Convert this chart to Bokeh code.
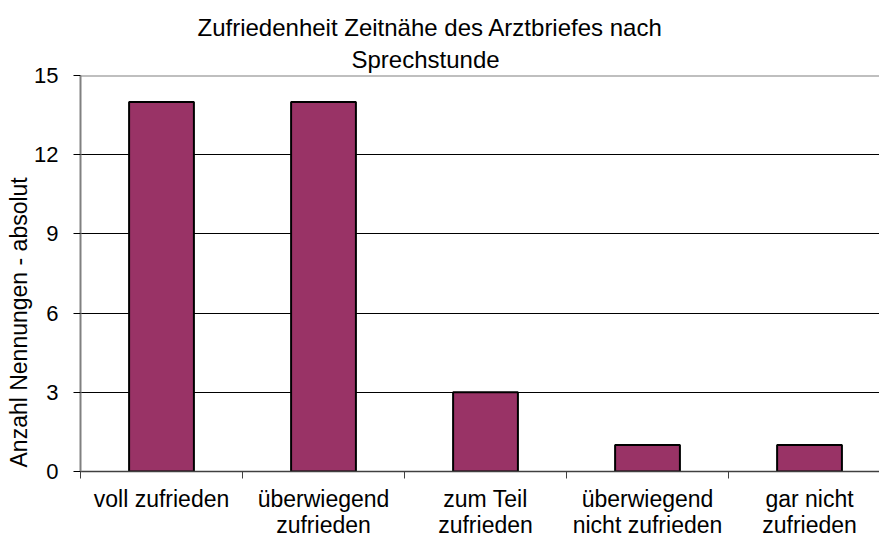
from bokeh.plotting import figure
from bokeh.models import FixedTicker, Range1d, Span, ColumnDataSource, Title
from bokeh.embed import file_html
from bokeh.resources import INLINE

categories = ["voll zufrieden", "überwiegend\nzufrieden", "zum Teil\nzufrieden",
              "überwiegend\nnicht zufrieden", "gar nicht\nzufrieden"]
counts = [14, 14, 3, 1, 1]
y_ticks = [0, 3, 6, 9, 12, 15]
title_lines = ["Zufriedenheit Zeitnähe des Arztbriefes nach", "Sprechstunde"]
y_label_text = "Anzahl Nennungen - absolut"

FONT = "Liberation Sans"
n = len(categories)
centers = [i + 0.5 for i in range(n)]

p = figure(width=879, height=540, output_backend="svg", toolbar_location=None,
           x_range=Range1d(0, 4.932), y_range=Range1d(0, 15),
           min_border_left=80, min_border_right=0, min_border_top=75, min_border_bottom=69)
p.outline_line_color = None
p.background_fill_color = "white"
p.border_fill_color = "white"

src = ColumnDataSource(dict(x=centers, top=counts))
p.vbar(x="x", top="top", width=0.4, source=src, fill_color="#993366",
       line_color="black", line_width=2)

# x axis
p.xaxis.ticker = FixedTicker(ticks=centers, minor_ticks=list(range(n + 1)))
p.xaxis.major_label_overrides = {c: lab for c, lab in zip(centers, categories)}
p.xaxis.major_tick_line_color = None
p.xaxis.major_tick_out = 0
p.xaxis.major_tick_in = 0
p.xaxis.minor_tick_out = 7
p.xaxis.minor_tick_in = 0
p.xaxis.minor_tick_line_color = "#404040"
p.xaxis.axis_line_color = "#404040"
p.xaxis.axis_line_width = 1.5
p.xaxis.major_label_standoff = 7
p.xaxis.major_label_text_font = FONT
p.xaxis.major_label_text_font_size = "23px"
p.xaxis.major_label_text_color = "black"
p.xaxis.major_label_text_line_height = 1.0

# y axis
p.yaxis.ticker = FixedTicker(ticks=y_ticks, minor_ticks=[])
p.yaxis.major_tick_out = 7
p.yaxis.major_tick_in = 0
p.yaxis.major_tick_line_color = "black"
p.yaxis.axis_line_color = "#808080"
p.yaxis.axis_line_width = 2
p.yaxis.major_label_standoff = 15
p.yaxis.major_label_text_font = FONT
p.yaxis.major_label_text_font_size = "22px"
p.yaxis.major_label_text_color = "black"

p.xgrid.grid_line_color = None
p.ygrid.ticker = FixedTicker(ticks=y_ticks[1:-1])
p.ygrid.grid_line_color = "black"
p.ygrid.grid_line_width = 1

p.add_layout(Span(location=y_ticks[-1], dimension="width", line_color="#808080", line_width=2))

p.title = None
# second line closest to the plot, first line above it
p.add_layout(Title(text=title_lines[1], align="left", offset=271, standoff=6,
                   text_font=FONT, text_font_size="24px", text_font_style="normal",
                   text_color="black", text_line_height=1.0), "above")
p.add_layout(Title(text=title_lines[0], align="left", offset=117, standoff=0,
                   text_font=FONT, text_font_size="24px", text_font_style="normal",
                   text_color="black", text_line_height=1.0), "above")

p.add_layout(Title(text=y_label_text, align="left", offset=4, standoff=0, text_font=FONT,
                   text_font_size="23px", text_font_style="normal", text_color="black"),
             "left")

open("out.html", "w").write(file_html(p, INLINE))
